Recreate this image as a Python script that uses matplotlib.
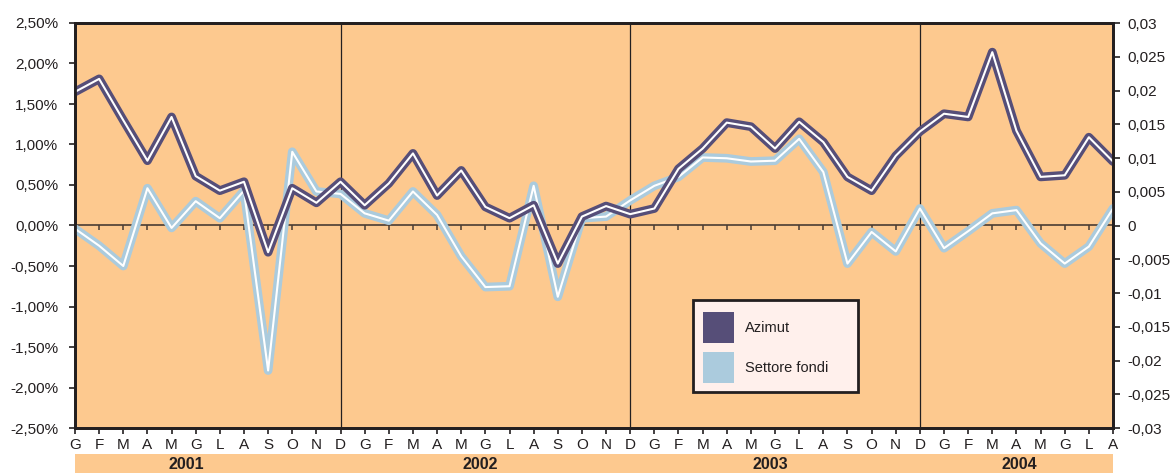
import numpy as np
import matplotlib
matplotlib.use("Agg")
import matplotlib.pyplot as plt
from matplotlib.patches import Rectangle
from matplotlib.markers import TICKDOWN
import matplotlib.transforms as mtransforms

plt.rcParams['font.family'] = ['Liberation Sans', 'DejaVu Sans']

months = ['G', 'F', 'M', 'A', 'M', 'G', 'L', 'A', 'S', 'O', 'N', 'D'] * 3 + ['G', 'F', 'M', 'A', 'M', 'G', 'L', 'A']
years = ['2001', '2002', '2003', '2004']
series_names = ['Azimut', 'Settore fondi']

# monthly returns, %
azimut = [1.65, 1.81, 1.30, 0.80, 1.34, 0.61, 0.43, 0.54, -0.33, 0.46, 0.28, 0.54,
          0.25, 0.52, 0.89, 0.37, 0.68, 0.23, 0.09, 0.25, -0.47, 0.11, 0.24, 0.14,
          0.21, 0.70, 0.95, 1.27, 1.22, 0.95, 1.28, 1.03, 0.60, 0.43, 0.86, 1.16,
          1.38, 1.34, 2.14, 1.17, 0.60, 0.62, 1.09, 0.79]
settore = [-0.04, -0.25, -0.50, 0.46, -0.03, 0.30, 0.09, 0.43, -1.79, 0.91, 0.42, 0.39,
           0.15, 0.06, 0.42, 0.13, -0.38, -0.76, -0.75, 0.49, -0.88, 0.09, 0.11, 0.31,
           0.49, 0.60, 0.84, 0.83, 0.79, 0.80, 1.07, 0.66, -0.47, -0.08, -0.32, 0.21,
           -0.28, -0.07, 0.15, 0.19, -0.22, -0.47, -0.26, 0.21]

dark = '#564e78'
light = '#abcbdd'
bg = '#fdc98f'
ink = '#231f20'
W, H = 1173, 473

fig = plt.figure(figsize=(W / 100, H / 100), dpi=100)
ax = fig.add_axes([75 / W, 1 - 428 / H, (1113 - 75) / W, (428 - 23) / H])
ax.set_facecolor(bg)
x = np.arange(len(months))

# year separators and zero line
for i, m in enumerate(months):
    if m == 'D':
        ax.axvline(i, color=ink, lw=0.9, zorder=1)
ax.axhline(0, color='#4a3c33', lw=1.2, zorder=1)
ax.plot(x, np.zeros(len(x)), ls='none', marker=TICKDOWN, ms=3.5, mew=1.1, color='#4a3c33', zorder=1)

kw = dict(solid_joinstyle='round', solid_capstyle='round')
ax.plot(x, settore, color=light, lw=6.3, zorder=3, **kw)
ax.plot(x, settore, color='white', lw=1.5, zorder=4, **kw)
ax.plot(x, azimut, color=dark, lw=6.3, zorder=5, **kw)
ax.plot(x, azimut, color='white', lw=1.5, zorder=6, **kw)

ax.set_xlim(0, len(x) - 1)
ax.set_ylim(-2.5, 2.5)
yt = np.arange(-2.5, 2.51, 0.5)
ax.set_yticks(yt)
ax.set_yticklabels([f"{v:.2f}%".replace('.', ',') for v in yt])
ax.set_xticks(x)
ax.set_xticklabels(months)
ax.tick_params(axis='x', length=4, width=1.2, color=ink, labelsize=11, pad=3, labelcolor=ink)
ax.tick_params(axis='y', length=4, width=1.2, color=ink, labelsize=11, pad=8, labelcolor=ink)

for s in ax.spines.values():
    s.set_linewidth(2)
    s.set_color(ink)

ax2 = ax.twinx()
ax2.set_ylim(-0.03, 0.03)
rt = np.arange(-0.03, 0.0301, 0.005)
ax2.set_yticks(rt)
rlab = []
for v in rt:
    s = f"{v:.3f}".rstrip('0').rstrip('.')
    if s in ('-0', '0'):
        s = '0'
    rlab.append(s.replace('.', ','))
ax2.set_yticklabels(rlab)
ax2.tick_params(axis='y', length=5, width=1.2, color=ink, labelsize=11, pad=5, labelcolor=ink)
for s in ax2.spines.values():
    s.set_linewidth(2)
    s.set_color(ink)

# year band below the month labels
fig.patches.append(Rectangle((75 / W, 0), (1113 - 75) / W, 19 / H,
                             transform=fig.transFigure, facecolor=bg, edgecolor='none'))
trans = mtransforms.blended_transform_factory(ax.transData, fig.transFigure)
year_pos = [4.6, 16.8, 28.8, 39.1]
for yr, xp in zip(years, year_pos):
    fig.text(xp, 8.5 / H, yr, transform=trans, ha='center', va='center',
             fontsize=11.5, fontweight='bold', color=ink)

# legend box, drawn by hand to match the boxed Excel legend
def px(x0, y0):
    return x0 / W, 1 - y0 / H

fig.patches.append(Rectangle(px(693, 392), 165 / W, 92 / H, transform=fig.transFigure,
                             facecolor='#fff0ec', edgecolor=ink, lw=2, zorder=10))
for k, (name, col) in enumerate(zip(series_names, [dark, light])):
    top = 312 + 40 * k
    fig.patches.append(Rectangle(px(703, top + 31), 31 / W, 31 / H, transform=fig.transFigure,
                                 facecolor=col, edgecolor='none', zorder=11))
    fig.text(*px(745, top + 16), name, ha='left', va='center', fontsize=10.5,
             color=ink, zorder=12)

fig.savefig('out.png', dpi=100)
